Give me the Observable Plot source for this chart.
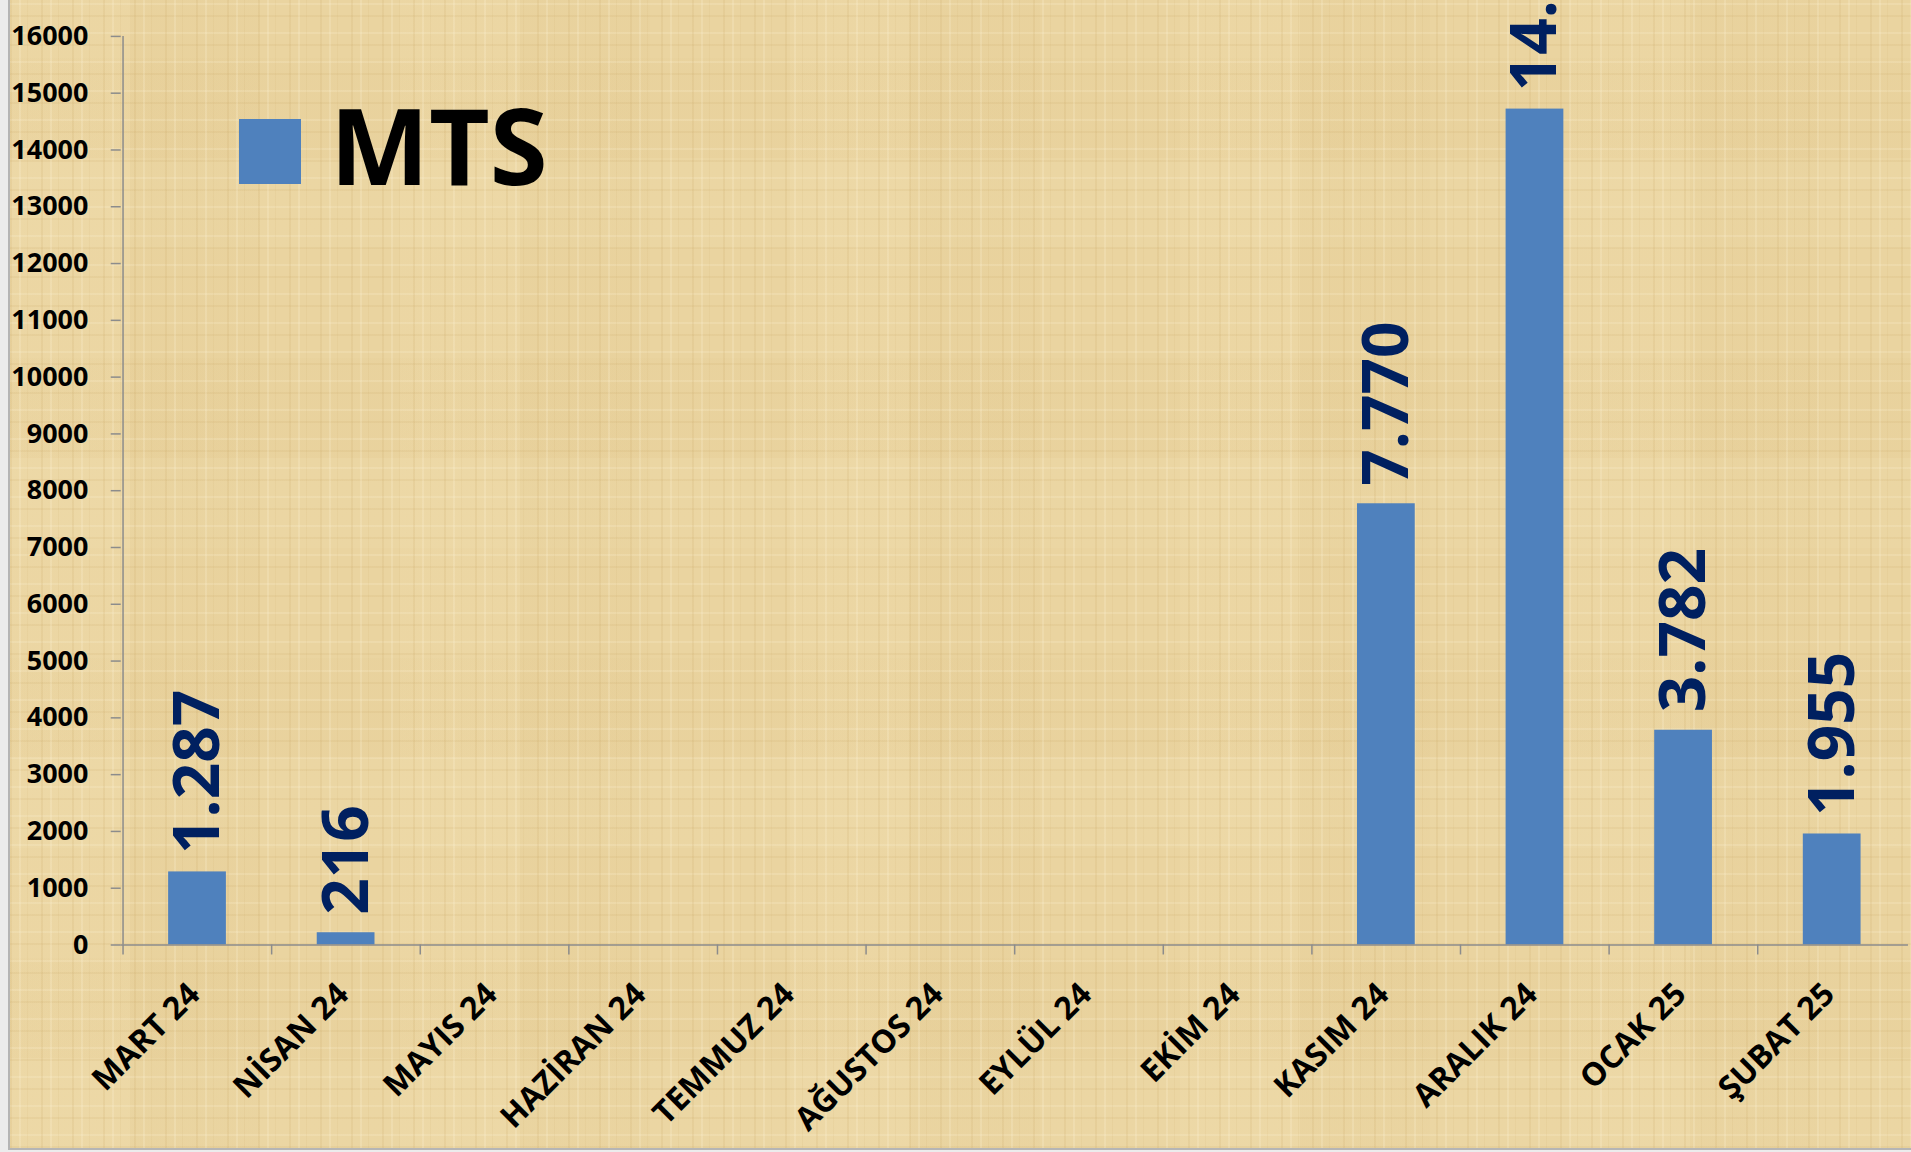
<!DOCTYPE html>
<html>
<head>
<meta charset="utf-8">
<script src="https://cdn.jsdelivr.net/npm/d3@7"></script>
<script src="https://cdn.jsdelivr.net/npm/@observablehq/plot@0.6"></script>
<style>
  html, body { margin: 0; padding: 0; }
  body {
    width: 1911px; height: 1152px; overflow: hidden;
    background: #ececec;
    font-family: "Open Sans", sans-serif;
  }
  #chart {
    position: absolute; left: 8px; top: 0; width: 1903px; height: 1150px;
    border-bottom: 2px solid #b5b5b5; border-left: 2px solid #b5b5b5; box-sizing: border-box;
    background-color: #EAD4A0;
    background-image:
      repeating-linear-gradient(90deg, rgba(196,160,92,0.14) 0 2px, transparent 2px 9px, rgba(255,246,220,0.20) 9px 11px, transparent 11px 17px, rgba(196,160,92,0.09) 17px 18px, transparent 18px 31px),
      repeating-linear-gradient(0deg, rgba(196,160,92,0.12) 0 2px, transparent 2px 12px, rgba(255,246,220,0.18) 12px 14px, transparent 14px 29px),
      repeating-linear-gradient(90deg, rgba(255,240,200,0.08) 0 120px, rgba(210,178,110,0.05) 120px 250px, transparent 250px 390px),
      repeating-linear-gradient(0deg, rgba(255,240,200,0.07) 0 90px, rgba(210,178,110,0.05) 90px 190px, transparent 190px 300px);
  }
  #chart svg { position: absolute; left: -3px; top: 0; }
  #legend { position: absolute; left: 0; top: 0; }
  #legend .swatch { position: absolute; left: 229px; top: 119px; width: 62px; height: 65px; background: #4F81BD; }
  #legend .name {
    position: absolute; left: 320px; top: 92px; font-size: 105px; line-height: 1;
    font-weight: bold; color: #000; font-family: "Open Sans", sans-serif; white-space: nowrap;
  }
</style>
</head>
<body>
<div id="chart"></div>
<script>
const months = ["MART 24", "NİSAN 24", "MAYIS 24", "HAZİRAN 24", "TEMMUZ 24", "AĞUSTOS 24", "EYLÜL 24", "EKİM 24", "KASIM 24", "ARALIK 24", "OCAK 25", "ŞUBAT 25"];
const values = [1287, 216, 0, 0, 0, 0, 0, 0, 7770, 14720, 3782, 1955];
const yTicks = d3.range(0, 16001, 1000);
const seriesName = "MTS";

const data = months.map((m, i) => ({m, v: values[i]}));
const fmt = v => d3.format(",")(v).replace(/,/g, ".");

const W = 1906, H = 1150, mL = 114, mR = 0, mT = 36, mB = 203;
const bw = (W - mL - mR) / months.length;
const inset = bw * 0.305;
const axisGray = "#8c8c8c";

const chart = Plot.plot({
  width: W, height: H,
  marginLeft: mL, marginRight: mR, marginTop: mT, marginBottom: mB,
  style: {background: "transparent", fontFamily: "Open Sans", overflow: "hidden"},
  x: {domain: months, padding: 0, label: null},
  y: {domain: [0, 16000], label: null},
  marks: [
    Plot.barY(data, {x: "m", y: "v", fill: "#4F81BD", insetLeft: inset, insetRight: inset}),
    Plot.ruleY([0], {stroke: axisGray, strokeWidth: 1.5}),
    Plot.ruleX([months[0]], {y1: 0, y2: 16000, dx: -bw / 2, stroke: axisGray, strokeWidth: 1.5}),
    Plot.axisY({ticks: yTicks, tickSize: 10, tickFormat: () => "", label: null, stroke: axisGray, strokeWidth: 1.5}),
    Plot.axisY({ticks: yTicks, tickSize: 0, tickPadding: 33, tickFormat: d => String(d), label: null,
      fontSize: 27, fontWeight: "bold", fill: "#000"}),
    Plot.axisX({ticks: months, tickSize: 10, dx: -bw / 2, tickFormat: () => "", label: null, stroke: axisGray, strokeWidth: 1.5}),
    Plot.axisX({ticks: months, tickSize: 0, tickPadding: 44, tickRotate: -45, dx: -3, label: null,
      fontSize: 32, fontWeight: "bold", fill: "#000"}),
    Plot.text(data.filter(d => d.v > 0), {x: "m", y: "v", text: d => fmt(d.v), rotate: -90,
      textAnchor: "start", dy: -18, dx: 1, fontSize: 64, fontWeight: "bold", fill: "#002060"})
  ]
});

const host = document.getElementById("chart");
host.appendChild(chart);
const legend = document.createElement("div");
legend.id = "legend";
legend.innerHTML = `<div class="swatch"></div><div class="name"></div>`;
legend.querySelector(".name").textContent = seriesName;
host.appendChild(legend);
</script>
</body>
</html>
